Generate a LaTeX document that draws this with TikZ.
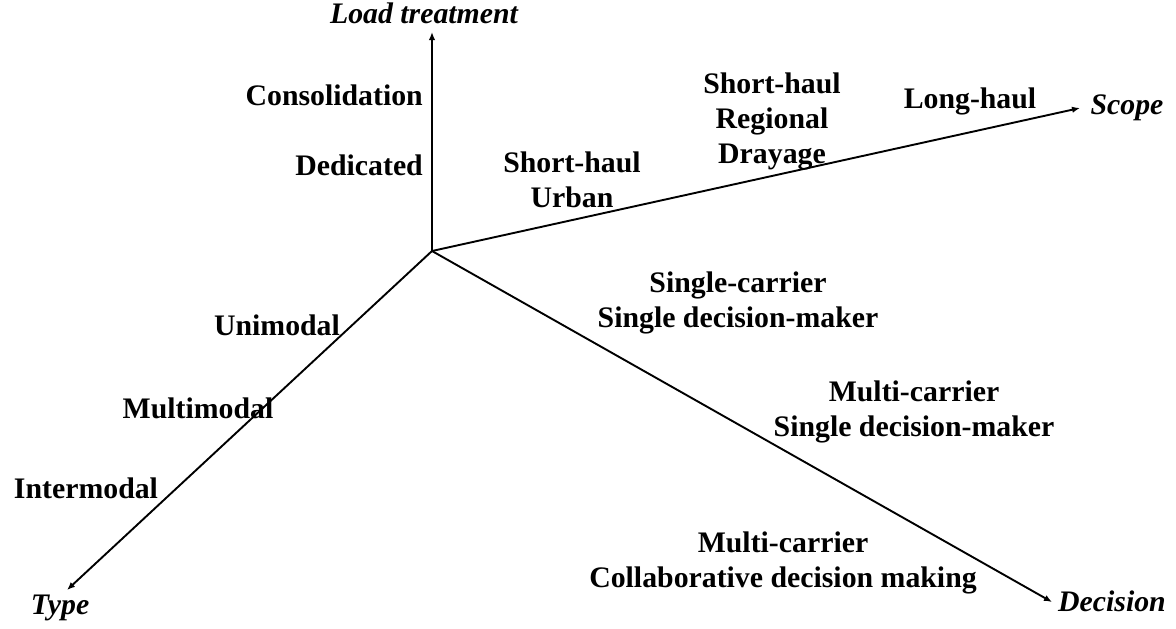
\documentclass[tikz,border=0pt]{standalone}
\usepackage{fontspec}
\setmainfont{Liberation Serif}
\usetikzlibrary{arrows.meta}
\begin{document}
\begin{tikzpicture}[x=1pt,y=-1pt,
  axis/.style={line width=1.9pt,-{Latex[length=8pt,width=6.5pt]}},
  lbl/.style={anchor=base,inner sep=0pt,font=\fontsize{29.8}{35}\selectfont\bfseries},
  ttl/.style={anchor=base,inner sep=0pt,font=\fontsize{29.8}{35}\selectfont\bfseries\itshape}]
\useasboundingbox (0,0) rectangle (1176,629);
\coordinate (O) at (432,251);
\coordinate (Ltip) at (432,32);
\coordinate (Stip) at (1080,108);
\coordinate (Dtip) at (1052,602);
\coordinate (Ttip) at (67,590);
\draw[axis] (O) -- (Ltip);
\draw[axis] (O) -- (Stip);
\draw[axis] (O) -- (Dtip);
\draw[axis] (O) -- (Ttip);
% axis titles
\node[ttl] (tL) at (424,23.5) {Load treatment};
\node[ttl] (tS) at (1127,114) {Scope};
\node[ttl] (tD) at (1112,611) {Decision};
\node[ttl] (tT) at (60,614) {Type};
% load treatment
\node[lbl,anchor=base east] (cons) at (423,105) {Consolidation};
\node[lbl,anchor=base east] (ded) at (423,175) {Dedicated};
% scope
\node[lbl] (sh1) at (572,172) {Short-haul};
\node[lbl] (urb) at (572,207) {Urban};
\node[lbl] (sh2) at (772,93) {Short-haul};
\node[lbl] (reg) at (772,128) {Regional};
\node[lbl] (dra) at (772,163) {Drayage};
\node[lbl] (lh) at (970,108) {Long-haul};
% decision
\node[lbl] (sc) at (738,292) {Single-carrier};
\node[lbl] (sdm1) at (738,327) {Single decision-maker};
\node[lbl] (mc1) at (914,401) {Multi-carrier};
\node[lbl] (sdm2) at (914,436) {Single decision-maker};
\node[lbl] (mc2) at (783,552) {Multi-carrier};
\node[lbl] (cdm) at (783,587) {Collaborative decision making};
% type
\node[lbl] (uni) at (277,335) {Unimodal};
\node[lbl] (mul) at (198,418) {Multimodal};
\node[lbl] (int) at (86,498) {Intermodal};
\end{tikzpicture}
\end{document}
